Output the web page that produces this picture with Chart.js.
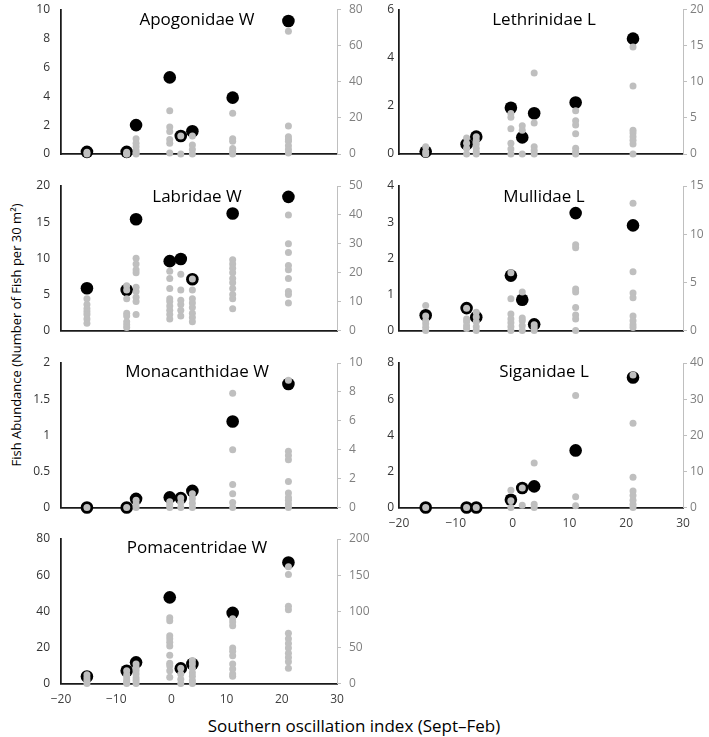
<!DOCTYPE html>
<html><head><meta charset="utf-8">
<script src="https://cdn.jsdelivr.net/npm/chart.js@4.4.1/dist/chart.umd.min.js"></script>
<style>
html,body{margin:0;padding:0;background:#fff;width:709px;height:737px;overflow:hidden;}
#wrap{position:relative;width:709px;height:737px;font-family:"Open Sans",sans-serif;}
#wrap canvas{position:absolute;}
.ttl{position:absolute;font-size:17px;line-height:17px;color:#000;white-space:nowrap;transform:translateX(-50%);}
#ytitle{position:absolute;left:16px;top:335px;font-size:13px;line-height:13px;white-space:nowrap;color:#000;transform:translate(-50%,-50%) rotate(-90deg);}
#xtitle{position:absolute;left:354px;top:717px;font-size:17px;line-height:17px;white-space:nowrap;color:#000;transform:translateX(-50%);}
</style></head><body><div id="wrap">
<div id="ytitle">Fish Abundance (Number of Fish per 30 m²)</div>
<div id="xtitle">Southern oscillation index (Sept–Feb)</div>
</div>
<script>
// ---- data ----
const soi = [-15.3, -8.1, -6.4, -0.3, 1.7, 3.8, 11.1, 21.2];
const xTicks = [-20, -10, 0, 10, 20, 30];

const apogonidaeMean = [0.15, 0.15, 2.0, 5.3, 1.25, 1.57, 3.9, 9.2];
const apogonidaeTransects = [[1,0],[1,0,0],[8.5,6,4,2,0.5,0],[24,15,12.5,8,6,0.5],[10,0],[10,5,2.5,0],[22.5,8.5,7,3,1.5,0],[68,15.5,9.5,8,7,4.5,2.5,0.5]];
const apogonidaeLeftTicks = [0,2,4,6,8,10];
const apogonidaeRightTicks = [0,20,40,60,80];

const lethrinidaeMean = [0.1, 0.41, 0.72, 1.92, 0.69, 1.69, 2.14, 4.79];
const lethrinidaeTransects = [[1,0.3,0],[2.2,1.5,0.8,0],[2.4,1.9,1.4,0.8,0.3,0],[5.6,5.1,3.5,1.5,0.7,0],[3.9,3.3,0],[11.2,4.3,1,0.5,0],[6,4.6,4,2.8,0.8,0.3,0],[14.8,9.4,3.3,2.9,2.4,1.9,1.4,0]];
const lethrinidaeLeftTicks = [0,2,4,6];
const lethrinidaeRightTicks = [0,5,10,15,20];

const labridaeMean = [5.84, 5.6, 15.4, 9.6, 9.9, 7.1, 16.2, 18.5];
const labridaeTransects = [[11,9,7.5,6.5,5.5,4,2.5],[15.5,14,11,6,5,3,2,1],[25,23,21,20,15,13.5,11.5,10,5.5],[20.5,18,14.5,11,10,8.5,7,5.5,4],[19.5,14,10.5,9,7,5],[17.8,14,11,9.5,8,6,4.5,3],[24.5,23,21.5,20,18,16.5,14.5,12.5,11,7.5],[40,30,27,22.5,21,18,13.5,12.5,9.5]];
const labridaeLeftTicks = [0,5,10,15,20];
const labridaeRightTicks = [0,10,20,30,40,50];

const mullidaeMean = [0.42, 0.62, 0.37, 1.52, 0.85, 0.17, 3.25, 2.91];
const mullidaeTransects = [[2.6,1.5,1,0.7,0.35,0],[2.3,1.2,0.9,0.5,0.2],[1.9,1.4,0.9,0.4,0],[6,3.3,1.7,1.2,0.8,0.4,0],[4,1.3,1,0.5,0],[0.6,0.3,0],[8.9,8.6,4.3,4,2.4,1.6,1.2,0],[13.2,6.1,3.9,3.4,1.5,1,0.6,0.3]];
const mullidaeLeftTicks = [0,1,2,3,4];
const mullidaeRightTicks = [0,5,10,15];

const monacanthidaeMean = [0, 0, 0.12, 0.14, 0.13, 0.23, 1.19, 1.71];
const monacanthidaeTransects = [[0],[0],[0.5,0.25,0],[0.4,0.2,0],[0.65,0.35,0],[0.95,0.6,0.3,0],[7.9,4,1.6,0.95,0.35,0],[8.8,3.9,3.6,3.3,1.8,1,0.7,0.5,0.25,0]];
const monacanthidaeLeftTicks = [0,0.5,1,1.5,2];
const monacanthidaeRightTicks = [0,2,4,6,8,10];

const siganidaeMean = [0, 0, 0, 0.43, 1.08, 1.17, 3.16, 7.2];
const siganidaeTransects = [[0],[0],[0],[4.8,1.9,0],[5.4,0.6],[12.3,0.9,0],[31,3,0.5],[36.7,23.3,8.4,4.6,3.3,2,0.9,0]];
const siganidaeLeftTicks = [0,2,4,6,8];
const siganidaeRightTicks = [0,10,20,30,40];

const pomacentridaeMean = [3.9, 7.05, 11.7, 47.7, 8.35, 10.8, 39.1, 67];
const pomacentridaeTransects = [[12,8,4,0],[17.6,12,9,5,2,0],[27,22,18,13,8,4,0],[91,87,66,62,57,52,39,28,24.5,17.5,8.5],[21,13,6,0],[32,27,21,15,10,4,0],[89.5,85,80,49,44.5,38.5,27,20,13,10],[161.5,151,107,102,69.5,62,55.5,49,42,36,30,21]];
const pomacentridaeLeftTicks = [0,20,40,60,80];
const pomacentridaeRightTicks = [0,50,100,150,200];

// ---- panels ----
const panels = [
  {title:'Apogonidae W', mean:apogonidaeMean, tr:apogonidaeTransects, lt:apogonidaeLeftTicks, rt:apogonidaeRightTicks, col:0, row:0, xl:false},
  {title:'Lethrinidae L', mean:lethrinidaeMean, tr:lethrinidaeTransects, lt:lethrinidaeLeftTicks, rt:lethrinidaeRightTicks, col:1, row:0, xl:false},
  {title:'Labridae W', mean:labridaeMean, tr:labridaeTransects, lt:labridaeLeftTicks, rt:labridaeRightTicks, col:0, row:1, xl:false},
  {title:'Mullidae L', mean:mullidaeMean, tr:mullidaeTransects, lt:mullidaeLeftTicks, rt:mullidaeRightTicks, col:1, row:1, xl:false},
  {title:'Monacanthidae W', mean:monacanthidaeMean, tr:monacanthidaeTransects, lt:monacanthidaeLeftTicks, rt:monacanthidaeRightTicks, col:0, row:2, xl:false},
  {title:'Siganidae L', mean:siganidaeMean, tr:siganidaeTransects, lt:siganidaeLeftTicks, rt:siganidaeRightTicks, col:1, row:2, xl:true},
  {title:'Pomacentridae W', mean:pomacentridaeMean, tr:pomacentridaeTransects, lt:pomacentridaeLeftTicks, rt:pomacentridaeRightTicks, col:0, row:3, xl:true}
];

const cols = [
  {left:0, width:380, lw:61, rw:43, lpad:11, rpad:8, tx:197},
  {left:340, width:369, lw:59, rw:26, lpad:5, rpad:3, tx:544}
];
const rowTop = [9.5, 186, 363, 539];
const titleTop = [10, 187, 362, 538];
const PLOT_H = 144.5, TOPPAD = 22;

Chart.defaults.font.family = '"Open Sans", sans-serif';
Chart.defaults.font.size = 12;

const fmt = v => (v < 0 ? '\u2212' + Math.abs(v) : String(v));
const wrap = document.getElementById('wrap');

panels.forEach(p => {
  const c = cols[p.col];
  const xh = p.xl ? 32 : 22;
  const cv = document.createElement('canvas');
  const top0 = Math.floor(rowTop[p.row]) - TOPPAD;
  const padTop = rowTop[p.row] - top0;
  const H = Math.ceil(padTop + PLOT_H + xh);
  const xhReal = H - padTop - PLOT_H;
  cv.width = c.width; cv.height = H;
  cv.style.left = c.left + 'px';
  cv.style.top = top0 + 'px';
  cv.style.width = c.width + 'px'; cv.style.height = H + 'px';
  wrap.appendChild(cv);

  const t = document.createElement('div');
  t.className = 'ttl'; t.textContent = p.title;
  t.style.left = c.tx + 'px'; t.style.top = titleTop[p.row] + 'px';
  wrap.appendChild(t);

  const meanPts = soi.map((x, i) => ({x, y: p.mean[i]}));
  const trPts = [];
  soi.forEach((x, i) => p.tr[i].forEach(v => trPts.push({x, y: v})));

  new Chart(cv, {
    type: 'scatter',
    data: {datasets: [
      {data: meanPts, yAxisID: 'yL', pointRadius: 6.3, pointBackgroundColor: '#000', pointBorderWidth: 0, order: 1, clip: false},
      {data: trPts, yAxisID: 'yR', pointRadius: 3.5, pointBackgroundColor: '#bfbfbf', pointBorderWidth: 0, order: 0, clip: false}
    ]},
    options: {
      responsive: false, animation: false, devicePixelRatio: 1,
      layout: {autoPadding: false, padding: {top: padTop, left: 0, right: 0, bottom: 0}},
      plugins: {legend: {display: false}, tooltip: {enabled: false}},
      events: [],
      scales: {
        x: {
          type: 'linear', min: -20, max: 30, position: 'bottom',
          afterBuildTicks: s => { s.ticks = xTicks.map(v => ({value: v})); },
          afterFit: s => { s.height = xhReal; },
          grid: {display: false, drawTicks: false},
          border: {display: true, color: '#1a1a1a', width: 1.75},
          ticks: {display: p.xl, padding: 9, color: '#404040', maxRotation: 0, autoSkip: false, callback: fmt, font: {size: 12}}
        },
        yL: {
          type: 'linear', position: 'left', min: p.lt[0], max: p.lt[p.lt.length - 1],
          afterBuildTicks: s => { s.ticks = p.lt.map(v => ({value: v})); },
          afterFit: s => { s.width = c.lw; },
          grid: {display: false, drawTicks: false},
          border: {display: true, color: '#1a1a1a', width: 1.75},
          ticks: {padding: c.lpad, color: '#333', callback: fmt, font: {size: 12}}
        },
        yR: {
          type: 'linear', position: 'right', min: p.rt[0], max: p.rt[p.rt.length - 1],
          afterBuildTicks: s => { s.ticks = p.rt.map(v => ({value: v})); },
          afterFit: s => { s.width = c.rw; },
          grid: {display: true, drawOnChartArea: false, drawTicks: true, tickLength: 4, color: '#bfbfbf', lineWidth: 1},
          border: {display: true, color: '#bfbfbf', width: 1},
          ticks: {padding: c.rpad, color: '#7f7f7f', callback: fmt, font: {size: 12}}
        }
      }
    }
  });
});
</script>
</body></html>
